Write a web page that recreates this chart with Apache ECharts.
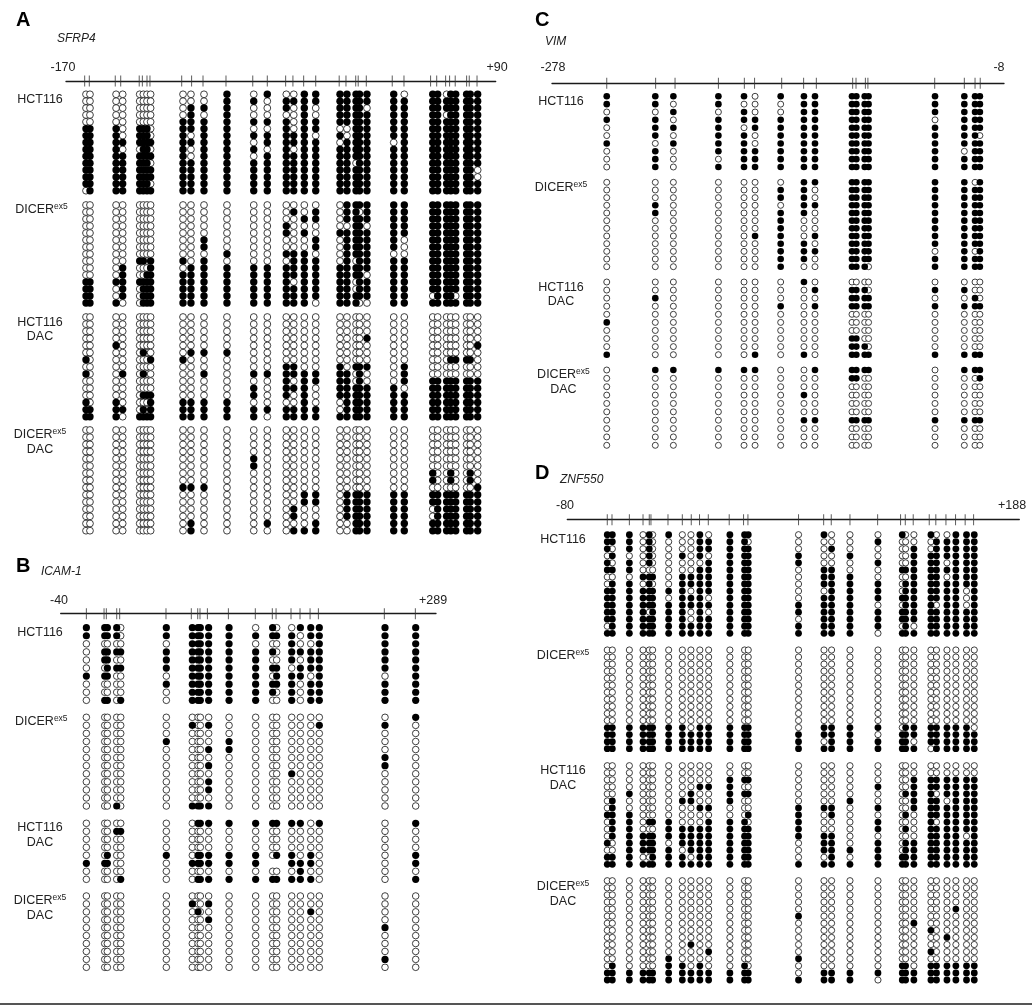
<!DOCTYPE html>
<html>
<head>
<meta charset="utf-8">
<style>html,body{margin:0;padding:0;background:#fff}#main{width:1032px;height:1007px}</style>
<script src="https://cdn.jsdelivr.net/npm/echarts@6/dist/echarts.min.js"></script>
</head>
<body>
<div id="main"></div>
<script>
// CpG positions on each amplicon (bp), and the slightly spread lollipop columns under them
var sfrp4Range = [-170, 90];
var sfrp4Cpg = [-158.7,-155.9,-140.2,-136.9,-125.7,-123.8,-121,-119.2,-100,-94,-87.1,-73.2,-57,-48.2,-37.1,-32.7,-26.2,-18.9,-4.7,-0.6,5.3,6.8,11.7,27.4,34.5,50.6,54.3,59.7,62.1,65.5,72.4,74,78.7];
var sfrp4Cols = [-157.9,-155.5,-139.7,-135.7,-125.4,-123.2,-121,-118.8,-99.2,-94.4,-86.5,-72.6,-56.4,-48.2,-36.7,-32.2,-25.8,-18.9,-4.2,0,5.5,7.6,12.1,28.3,34.7,51.9,54.9,60.3,62.8,65.8,72.4,74.6,79.1];
var icamRange = [-40, 289];
var icamCpg = [-17.5,-2,0,9.1,11.7,52.3,74.5,80.1,82.1,88.6,107,130.6,145.5,148.8,161.9,169.8,178.6,185.9,243.7,270.9];
var icamCols = [-17.5,-1.4,0.9,9.1,12.6,52.6,75.4,80.4,82.4,89.7,107.6,130.9,145.8,149.3,162.5,170.1,179.2,186.7,244.3,271.2];
var vimRange = [-278, -8];
var vimCpg = [-245.3,-216.1,-204.5,-178.6,-163.1,-157,-140.8,-127.7,-120.1,-98.4,-96.4,-90.8,-89.3,-49.4,-31.7,-25.3,-22.2];
var vimCols = [-245.3,-216.3,-205.5,-178.6,-163.3,-156.7,-141.4,-127.5,-120.9,-98.8,-96.2,-91.2,-88.9,-49.2,-31.7,-25.3,-22.4];
var znfRange = [-80, 188];
var znfCpg = [-56.3,-53.5,-43.2,-35.1,-31.4,-30.4,-20.3,-11.8,-6.5,-1.6,3.6,16,24.5,27.1,57.1,72,76.5,87.6,104,117.6,120.4,125.1,134.6,138.5,144.5,150.2,155.9,160.9];
var znfCols = [-56.3,-53.3,-43.2,-35.1,-31.4,-29.4,-19.9,-11.8,-6.7,-1.4,3.8,16.4,25.1,27.3,57.1,72.2,76.7,87.6,104.2,118.6,120.6,125.5,135.6,138.9,145.1,150.4,156.7,161.3];

// one string per clone, 1 = methylated, 0 = unmethylated, . = no read; spaces only group the sites
var sfrp4Hct = [
"00 00 0000 000 1 01 0011 11111 10 11011111",
"00 00 0000 000 1 10 1111 11111 11 11111111",
"00 00 0000 011 1 00 1010 11110 11 11111111",
"00 00 0000 010 1 00 0010 11111 11 11011111",
"00 00 0000 111 1 11 1011 11111 11 11111111",
"11 10 1110 111 1 00 1011 00111 11 11111111",
"11 10 1110 101 1 11 1110 10111 11 11111111",
"11 11 1111 111 1 01 1111 01111 01 11111111",
"11 10 0110 101 1 10 1011 11111 11 11111111",
"11 11 1111 101 1 01 1111 11111 11 11111111",
"11 11 1110 111 1 11 1111 11011 11 11111111",
"11 11 1111 111 1 11 1111 11111 11 11111110",
"11 11 1111 111 1 11 1111 11111 11 11111110",
"11 11 1110 111 1 11 1111 11111 11 11111111",
"01 11 1111 111 1 11 1111 11111 11 11111111"];
var sfrp4Dicer = [
"00 00 0000 000 0 00 0000 01111 11 11111111",
"00 00 0000 000 0 00 0101 01101 11 11111111",
"00 00 0000 000 0 00 0011 01111 11 11111111",
"00 00 0000 000 0 00 1000 00110 11 11111111",
"00 00 0000 000 0 00 1010 11111 11 11111111",
"00 00 0000 001 0 00 0001 01111 10 11111111",
"00 00 0000 001 0 00 0001 01111 10 11111111",
"00 00 0000 000 1 00 1110 01111 00 11111111",
"00 00 1101 101 0 00 0111 01011 11 11111111",
"00 01 0001 011 1 11 1111 11111 11 11111111",
"00 01 0011 111 1 11 1111 11110 11 11111111",
"11 11 1111 111 1 11 1011 11011 11 11111111",
"11 01 0111 111 1 11 1111 11011 11 11111111",
"11 01 0111 111 1 11 1111 11111 11 01110111",
"11 10 0111 111 1 11 1110 11100 11 11111111"];
var sfrp4HctDac = [
"00 00 0000 000 0 00 0000 00000 00 00000000",
"00 00 0000 000 0 00 0000 00000 00 00000000",
"00 00 0000 000 0 00 0000 00000 00 00000000",
"00 00 0000 000 0 00 0000 00001 00 00000000",
"00 10 0000 000 0 00 0000 00000 00 00000001",
"00 00 0100 011 1 00 0000 00000 00 00000000",
"10 00 0001 100 0 00 0000 00000 00 00011110",
"00 00 0000 000 0 00 1100 10111 01 00000000",
"10 01 0100 001 0 11 1111 11010 01 00000000",
"00 00 0000 000 0 00 1011 11010 01 11111111",
"00 00 0000 000 0 10 1110 11111 10 11111111",
"00 00 0111 000 0 10 1010 11111 11 11111111",
"10 10 0001 111 1 00 0010 01111 11 11111111",
"11 11 0101 111 1 11 1111 01111 11 11111111",
"11 10 1111 111 1 10 1111 11111 11 11111111"];
var sfrp4DicerDac = [
"00 00 0000 000 0 00 0000 00000 00 00000000",
"00 00 0000 000 0 00 0000 00000 00 00000000",
"00 00 0000 000 0 00 0000 00000 00 00000000",
"00 00 0000 000 0 00 0000 00000 00 00000000",
"00 00 0000 000 0 10 0000 00000 00 00000000",
"00 00 0000 000 0 10 0000 00000 00 00000000",
"00 00 0000 000 0 00 0000 00000 00 10010010",
"00 00 0000 000 0 00 0000 00000 00 10010010",
"00 00 0000 111 0 00 0000 00000 00 00000001",
"00 00 0000 000 0 00 0011 01111 11 11111111",
"00 00 0000 000 0 00 0011 01111 11 11111111",
"00 00 0000 000 0 00 0100 01111 11 01111111",
"00 00 0000 000 0 00 0100 01111 11 01111111",
"00 00 0000 010 0 01 0001 00111 11 11111111",
"00 00 0000 010 0 00 0111 00111 11 11111111"];

var icamHct = [
"1 11 10 1 1111 1 0 10 0111 1 1",
"1 11 10 1 1111 1 1 11 1011 1 1",
"0 00 00 0 1111 1 0 00 1001 1 1",
"0 11 11 1 1111 1 1 10 1111 1 1",
"0 11 00 1 1111 1 1 00 1011 1 1",
"0 01 11 1 1111 1 1 11 0111 1 1",
"1 11 00 0 1111 1 1 01 1101 0 1",
"0 00 00 1 1111 1 1 11 1011 1 1",
"0 00 00 0 1111 1 1 10 1011 1 1",
"0 11 01 0 1111 1 1 00 1011 1 1"];
var icamDicer = [
"0 00 00 0 0000 0 0 00 0000 0 1",
"0 00 00 0 1001 0 0 00 0001 1 0",
"0 00 00 0 0000 0 0 00 0000 0 0",
"0 00 00 1 0000 1 0 00 0000 0 0",
"0 00 00 0 0001 1 0 00 0000 0 0",
"0 00 00 0 0000 0 0 00 0000 1 0",
"0 00 00 0 0001 0 0 00 0000 1 0",
"0 00 00 0 0000 0 0 00 1000 0 0",
"0 00 00 0 0001 0 0 00 0000 0 0",
"0 00 00 0 0001 0 0 00 0000 0 0",
"0 00 00 0 0000 0 0 00 0000 0 0",
"0 00 10 0 1111 0 0 00 0000 0 0"];
var icamHctDac = [
"0 00 00 0 0111 1 1 11 1101 0 1",
"0 00 11 0 0000 0 0 00 0000 0 0",
"0 00 00 0 0000 0 0 00 0000 0 0",
"0 00 00 0 0000 0 0 00 0000 0 0",
"0 01 00 1 0111 1 1 01 1010 0 1",
"1 11 00 0 1111 1 1 .. 1110 0 1",
"0 00 00 0 0000 0 0 00 0100 0 0",
"0 00 01 0 0111 1 1 11 1110 0 1"];
var icamDicerDac = [
"0 00 00 0 0000 0 0 00 0000 0 0",
"0 00 00 0 1001 0 0 00 0000 0 0",
"0 00 00 0 0100 0 0 00 0010 0 0",
"0 00 00 0 0001 0 0 00 0000 0 0",
"0 00 00 0 0000 0 0 00 0000 1 0",
"0 00 00 0 0000 0 0 00 0000 0 0",
"0 00 00 0 0000 0 0 00 0000 0 0",
"0 00 00 0 0000 0 0 00 0000 0 0",
"0 00 00 0 0000 0 0 00 0000 1 0",
"0 00 00 0 0000 0 0 00 0000 0 0"];

var vimHct = [
"1 11 1 10 1 11 1111 1 111",
"1 10 1 00 0 11 1111 1 111",
"0 01 0 10 0 11 1111 1 111",
"1 10 1 11 1 11 1111 0 111",
"0 11 1 01 1 11 1111 1 111",
"0 10 1 10 1 11 1111 1 110",
"1 01 1 10 1 11 1111 1 111",
"0 10 1 11 1 11 1111 1 011",
"0 10 0 11 1 11 1111 1 111",
"0 10 1 11 1 11 1111 1 111"];
var vimDicer = [
"0 00 0 00 0 11 1111 1 101",
"0 00 0 00 1 10 1111 1 111",
"0 00 0 00 1 10 1111 1 111",
"0 10 0 00 0 11 1111 1 111",
"0 10 0 00 1 10 1111 1 111",
"0 00 0 00 1 00 1111 1 111",
"0 00 0 00 1 00 1111 1 111",
"0 00 0 01 1 01 1111 1 111",
"0 00 0 00 1 10 1111 1 111",
"0 00 0 00 1 11 1111 0 101",
"0 00 0 00 1 10 1111 1 111",
"0 00 0 00 1 00 1110 1 111"];
var vimHctDac = [
"0 00 0 00 0 10 0000 0 000",
"0 00 0 00 0 01 1110 1 100",
"0 10 0 00 0 00 1111 0 010",
"0 00 0 00 1 01 1111 1 111",
"0 00 0 00 0 00 0000 0 000",
"1 00 0 00 0 00 0000 0 000",
"0 00 0 00 0 00 0000 0 000",
"0 00 0 00 0 00 1100 0 000",
"0 00 0 00 0 00 1110 0 000",
"1 00 0 01 0 10 1111 1 111"];
var vimDicerDac = [
"0 11 1 11 0 01 1111 0 111",
"0 00 0 00 0 00 1100 0 001",
"0 00 0 00 0 00 0000 0 000",
"0 00 0 00 0 10 0000 0 000",
"0 00 0 00 0 00 0000 0 000",
"0 00 0 00 0 00 0000 0 000",
"0 00 0 00 0 11 1111 1 111",
"0 00 0 00 0 00 0000 0 000",
"0 00 0 00 0 00 0000 0 000",
"0 00 0 00 0 00 0000 0 000"];

var znfHct = [
"11 1 010 1 0010 1 11 0 10 0 0 10 0 10 0 1 11",
"11 1 010 0 0011 1 10 0 00 0 1 00 0 01 1 1 11",
"10 1 010 0 0011 1 11 0 01 0 0 00 1 01 1 1 11",
"01 0 010 0 1010 1 11 1 00 1 0 00 1 11 1 1 11",
"10 1 010 0 0001 1 11 1 00 0 1 00 1 11 0 1 11",
"11 1 000 0 0011 1 11 0 11 0 0 11 1 11 1 1 11",
"00 0 111 0 1111 1 11 0 11 1 0 00 1 11 0 1 11",
"01 1 010 0 1111 1 11 0 11 1 1 01 1 11 1 1 11",
"11 1 111 1 1011 1 11 0 01 1 1 01 1 11 1 1 01",
"11 1 111 0 1110 1 11 0 11 1 1 11 1 11 1 1 01",
"11 1 111 1 1111 1 11 1 11 1 0 01 1 10 1 1 01",
"11 1 101 1 1010 1 11 1 11 1 1 11 1 11 1 1 11",
"11 1 111 1 1011 1 11 0 11 1 1 11 1 11 1 1 11",
"01 1 111 1 1111 1 11 1 11 1 1 01 0 11 1 1 11",
"11 1 111 1 1111 1 11 1 11 1 0 11 1 11 1 1 11"];
var znfDicer = [
"00 0 000 0 0000 0 00 0 00 0 0 00 0 00 0 0 00",
"00 0 000 0 0000 0 00 0 00 0 0 00 0 00 0 0 00",
"00 0 000 0 0000 0 00 0 00 0 0 00 0 00 0 0 00",
"00 0 000 0 0000 0 00 0 00 0 0 00 0 00 0 0 00",
"00 0 000 0 0000 0 00 0 00 0 0 00 0 00 0 0 00",
"00 0 000 0 0000 0 00 0 00 0 0 00 0 00 0 0 00",
"00 0 000 0 0000 0 00 0 00 0 0 00 0 00 0 0 00",
"00 0 000 0 0000 0 00 0 00 0 0 00 0 00 0 0 00",
"00 0 000 0 0000 0 00 0 00 0 0 00 0 00 0 0 00",
"00 0 000 0 0000 0 00 0 00 0 0 00 0 00 0 0 00",
"00 0 000 0 0000 0 00 0 00 0 0 00 0 00 0 0 00",
"11 1 111 1 1011 1 11 0 11 1 1 01 1 11 1 1 10",
"11 1 111 1 1111 1 11 1 11 1 0 11 1 11 1 1 11",
"11 1 111 1 1111 1 11 1 01 1 1 11 0 11 1 1 11",
"11 1 111 1 1111 1 11 1 11 1 1 11 1 01 1 1 11"];
var znfHctDac = [
"00 0 000 0 0000 0 00 0 00 0 0 00 0 00 0 0 00",
"00 0 000 0 0000 0 00 0 00 0 0 00 0 00 0 0 00",
"00 0 000 0 0000 1 11 0 00 0 0 00 1 11 1 1 11",
"00 0 000 0 0011 1 00 0 00 0 1 00 1 11 1 1 11",
"00 1 000 0 0100 1 11 0 00 0 0 01 1 10 1 1 11",
"01 0 000 0 1100 1 00 0 00 1 0 00 1 11 0 1 11",
"01 0 000 0 0011 0 00 1 11 0 1 00 1 11 1 1 11",
"11 1 000 0 0000 0 01 1 01 0 0 01 0 11 1 1 11",
"01 1 011 1 0001 1 10 1 00 0 1 00 0 10 1 1 11",
"01 1 000 1 1111 1 11 1 00 0 1 01 0 11 1 1 11",
"01 1 111 1 1111 1 11 1 11 0 0 00 0 11 1 1 01",
"10 1 111 0 1111 1 11 0 11 0 1 01 1 11 1 1 11",
"00 1 111 1 0111 1 11 0 11 1 1 01 1 11 1 1 11",
"11 1 001 1 1011 1 11 0 01 0 1 11 1 11 1 1 11",
"11 1 111 1 1111 1 11 1 11 1 1 11 1 11 1 1 11"];
var znfDicerDac = [
"00 0 000 0 0000 0 00 0 00 0 0 00 0 00 0 0 00",
"00 0 000 0 0000 0 00 0 00 0 0 00 0 00 0 0 00",
"00 0 000 0 0000 0 00 0 00 0 0 00 0 00 0 0 00",
"00 0 000 0 0000 0 00 0 00 0 0 00 0 00 0 0 00",
"00 0 000 0 0000 0 00 0 00 0 0 00 0 00 0 1 00",
"00 0 000 0 0000 0 00 1 00 0 0 00 0 00 0 0 00",
"00 0 000 0 0000 0 00 0 00 0 0 00 1 00 0 0 00",
"00 0 000 0 0000 0 00 0 00 0 0 00 0 10 0 0 00",
"00 0 000 0 0000 0 00 0 00 0 0 00 0 00 1 0 00",
"00 0 000 0 0100 0 00 0 00 0 0 00 0 00 0 0 00",
"00 0 000 0 0001 0 00 0 00 0 0 00 0 10 0 0 00",
"00 0 000 1 0000 0 00 1 00 0 0 00 0 00 0 0 00",
"01 0 000 1 1010 0 10 0 00 0 0 11 0 11 1 1 11",
"11 1 111 1 1111 1 11 0 11 1 1 11 1 11 1 1 11",
"11 1 111 1 1111 1 11 1 11 1 0 11 1 11 1 1 11"];

// page layout: track line from left to right at lineY, size = lollipop diameter
var panels = [
    {letter:'A', letterX:16, letterY:20, gene:'SFRP4', geneX:57, geneY:39, left:66, right:495.7, lineY:81, size:7.4, labelX:40,
     range:sfrp4Range, cpg:sfrp4Cpg, cols:sfrp4Cols, endY:68, endX:[63, 497],
     blocks:[
        {rows:sfrp4Hct, top:94.3, bottom:190.7, label:'hct', labelY:100},
        {rows:sfrp4Dicer, top:205, bottom:303, label:'dicer', labelY:209.7, labelX:41.5},
        {rows:sfrp4HctDac, top:317, bottom:416.7, label:'hctDac', labelY:322.3},
        {rows:sfrp4DicerDac, top:430, bottom:530.7, label:'dicerDac', labelY:435}
     ]},
    {letter:'B', letterX:16, letterY:566, gene:'ICAM-1', geneX:41, geneY:572, left:60.7, right:436, lineY:613.7, size:7.2, labelX:40,
     range:icamRange, cpg:icamCpg, cols:icamCols, endY:601, endX:[59, 433],
     blocks:[
        {rows:icamHct, top:627.7, bottom:700.3, label:'hct', labelY:632.7},
        {rows:icamDicer, top:717.3, bottom:806, label:'dicer', labelY:721.7, labelX:41.3},
        {rows:icamHctDac, top:823.3, bottom:879.3, label:'hctDac', labelY:827.7},
        {rows:icamDicerDac, top:896, bottom:967.3, label:'dicerDac', labelY:901}
     ]},
    {letter:'C', letterX:535, letterY:20, gene:'VIM', geneX:545, geneY:42, left:552, right:1004, lineY:83.3, size:6.6, labelX:561,
     range:vimRange, cpg:vimCpg, cols:vimCols, endY:68, endX:[553, 999],
     blocks:[
        {rows:vimHct, top:96.3, bottom:167, label:'hct', labelY:101.7},
        {rows:vimDicer, top:182.3, bottom:266.7, label:'dicer', labelY:187.7},
        {rows:vimHctDac, top:282, bottom:354.7, label:'hctDac', labelY:287.3},
        {rows:vimDicerDac, top:370, bottom:445.3, label:'dicerDac', labelY:375, labelX:563.4}
     ]},
    {letter:'D', letterX:535, letterY:473, gene:'ZNF550', geneX:560, geneY:480, left:567.3, right:1019.3, lineY:519.7, size:6.8, labelX:563,
     range:znfRange, cpg:znfCpg, cols:znfCols, endY:506, endX:[565, 1012],
     blocks:[
        {rows:znfHct, top:534.7, bottom:633.3, label:'hct', labelY:540},
        {rows:znfDicer, top:650, bottom:748.7, label:'dicer', labelY:655.3},
        {rows:znfHctDac, top:765.7, bottom:864.3, label:'hctDac', labelY:770.7},
        {rows:znfDicerDac, top:880.7, bottom:980, label:'dicerDac', labelY:886.7}
     ]}
];

var labelText = {
    hct: 'HCT116',
    dicer: '{m|DICER}{s|ex5}',
    hctDac: 'HCT116\nDAC',
    dicerDac: '{m|DICER}{s|ex5}\n{m|DAC}'
};
var fontName = '"Liberation Sans", Arial, sans-serif';

var grids = [], xAxes = [], yAxes = [], series = [], texts = [];

function addGrid(p, top, height){
    grids.push({left:p.left, width:p.right - p.left, top:top, height:height});
    return grids.length - 1;
}

panels.forEach(function(p){
    // track line with one tick per CpG
    var t = addGrid(p, p.lineY - 8, 16);
    xAxes.push({
        gridIndex:t, type:'value', min:p.range[0], max:p.range[1],
        axisLine:{show:true, onZero:true, lineStyle:{color:'#1a1a1a', width:1.3}},
        axisTick:{show:false}, splitLine:{show:false}, axisLabel:{show:false}
    });
    yAxes.push({gridIndex:t, type:'value', min:-1, max:1, show:false});
    series.push({
        type:'scatter', xAxisIndex:t, yAxisIndex:t, silent:true, clip:false, symbol:'rect', symbolSize:[1, 11],
        itemStyle:{color:'#333'},
        data:p.cpg.map(function(x){ return [x, 0]; })
    });
    p.range.forEach(function(v, i){
        texts.push({
            type:'text', x:p.endX[i], y:p.endY, silent:true,
            style:{text:v > 0 ? '+' + v : '' + v, align:'center', verticalAlign:'middle', fill:'#222', font:'12.5px ' + fontName}
        });
    });

    p.blocks.forEach(function(b){
        var g = addGrid(p, b.top, b.bottom - b.top);
        var rows = b.rows.map(function(r){ return r.replace(/ /g, ''); });
        var open = [], full = [];
        rows.forEach(function(r, i){
            for(var c = 0; c < r.length; c++){
                if(r[c] == '1') full.push([p.cols[c], i]);
                else if(r[c] == '0') open.push([p.cols[c], i]);
            }
        });
        xAxes.push({gridIndex:g, type:'value', min:p.range[0], max:p.range[1], show:false});
        yAxes.push({
            gridIndex:g, type:'category', inverse:true, boundaryGap:false, show:false,
            data:rows.map(function(r, i){ return i + 1; })
        });
        series.push({
            type:'scatter', xAxisIndex:g, yAxisIndex:g, silent:true, clip:false, z:2, symbolSize:p.size - 0.6,
            itemStyle:{color:'#fff', borderColor:'#111', borderWidth:0.8, opacity:1},
            data:open
        });
        series.push({
            type:'scatter', xAxisIndex:g, yAxisIndex:g, silent:true, clip:false, z:3, symbolSize:p.size,
            itemStyle:{color:'#000', opacity:1},
            data:full
        });
        texts.push({
            type:'text', x:b.labelX || p.labelX, y:b.labelY - 7.5, silent:true,
            style:{
                text:labelText[b.label], align:'center', verticalAlign:'top', fill:'#222', lineHeight:14.7,
                font:'12.5px ' + fontName,
                rich:{
                    m:{fontSize:12.5, fontFamily:fontName, fill:'#222', lineHeight:14.7},
                    s:{fontSize:8.5, fontFamily:fontName, fill:'#222', verticalAlign:'top', lineHeight:14.7}
                }
            }
        });
    });

    texts.push({
        type:'text', x:p.letterX, y:p.letterY, silent:true,
        style:{text:p.letter, align:'left', verticalAlign:'middle', fill:'#000', font:'bold 20px ' + fontName}
    });
    texts.push({
        type:'text', x:p.geneX, y:p.geneY, silent:true,
        style:{text:p.gene, align:'left', verticalAlign:'middle', fill:'#222', font:'italic 12px ' + fontName}
    });
});

// rule along the bottom of the figure
texts.push({
    type:'line', silent:true,
    shape:{x1:0, y1:1004, x2:1032, y2:1004},
    style:{stroke:'#555', lineWidth:2}
});

var chart = echarts.init(document.getElementById('main'), null, {renderer:'canvas'});
chart.setOption({
    animation:false,
    backgroundColor:'#fff',
    grid:grids,
    xAxis:xAxes,
    yAxis:yAxes,
    series:series,
    graphic:texts
});
</script>
</body>
</html>
